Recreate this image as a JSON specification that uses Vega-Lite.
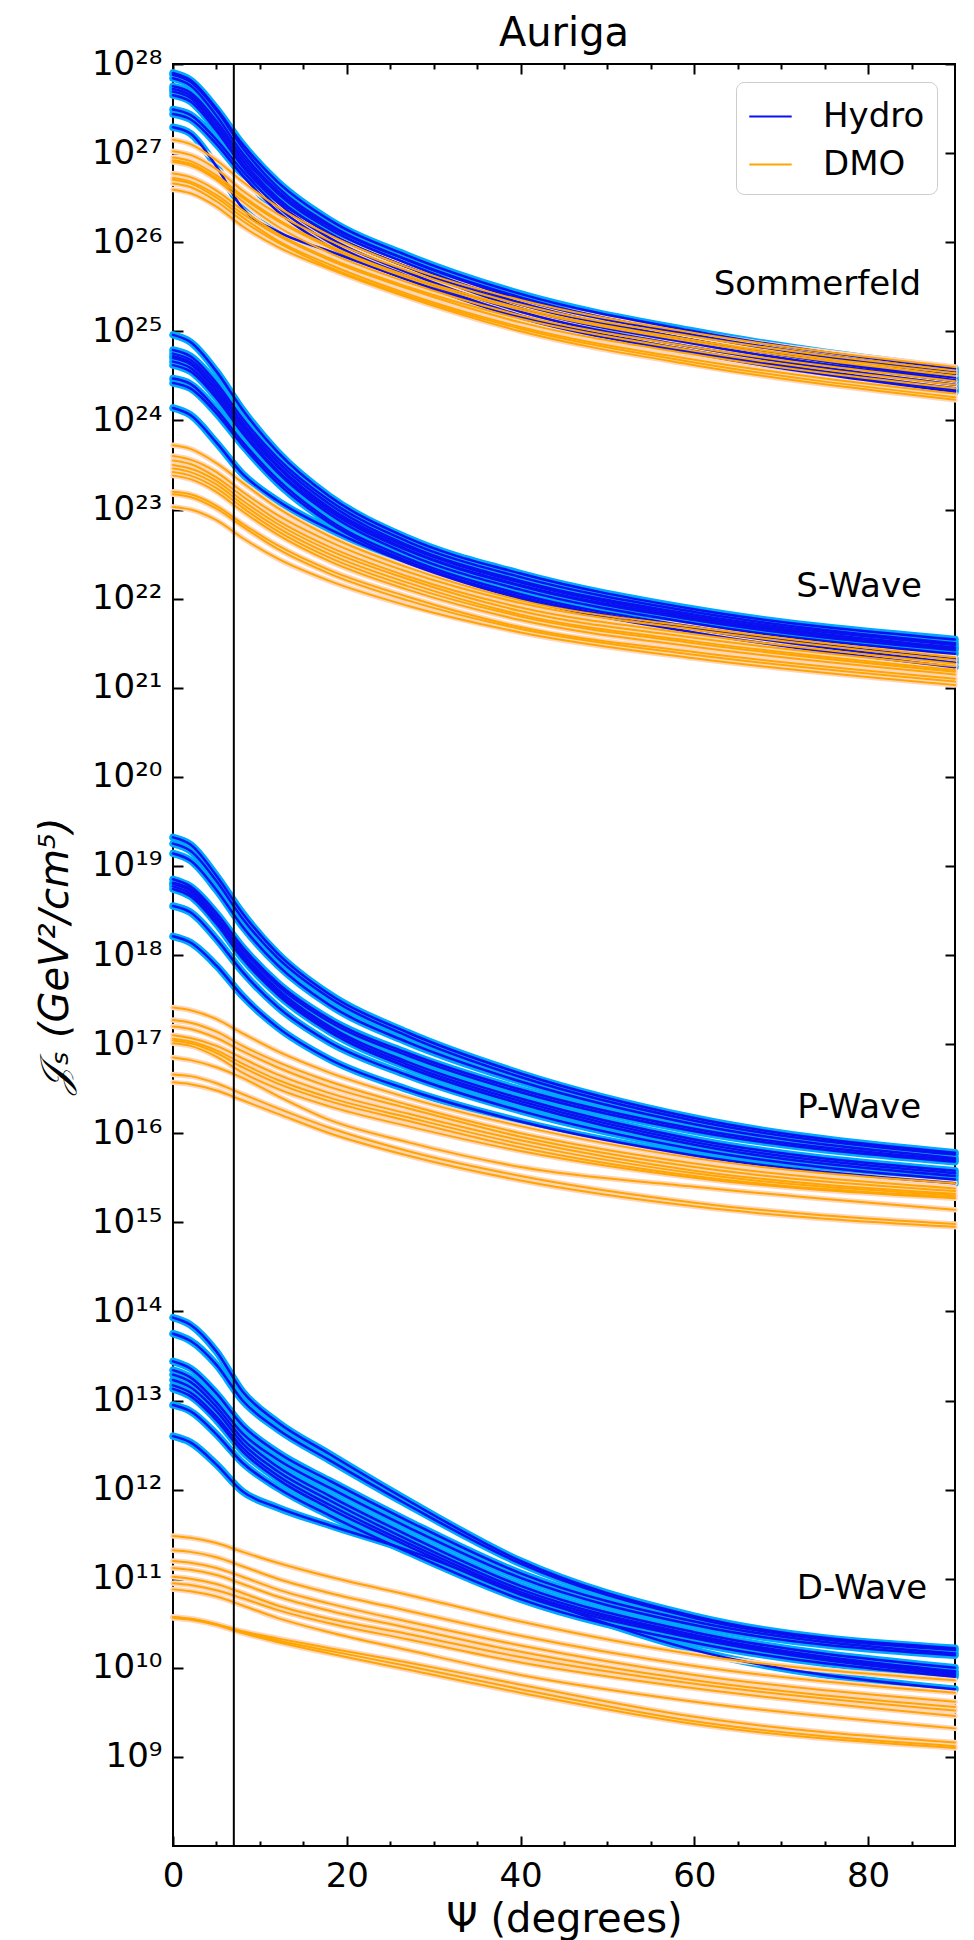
{
"$schema": "https://vega.github.io/schema/vega-lite/v6.json",
"width": 782,
"height": 1782,
"autosize": {"type": "none"},
"padding": {"left": 173, "top": 64, "right": 19, "bottom": 94},
"title": {"text": "Auriga", "fontSize": 40, "font": "DejaVu Sans", "fontWeight": "normal", "anchor": "middle", "baseline": "alphabetic", "offset": -39, "color": "black"},
"config": {
  "font": "DejaVu Sans",
  "view": {"stroke": "black", "strokeWidth": 2},
  "axis": {"domain": false, "grid": false, "labelFont": "DejaVu Sans", "labelFontSize": 34, "labelColor": "black", "tickColor": "black", "tickWidth": 2, "titleFont": "DejaVu Sans", "titleFontWeight": "normal", "titleColor": "black", "labelFlush": false, "labelOverlap": false},
  "legend": {"orient": "top-right", "offset": 18, "padding": 12, "strokeColor": "#cccccc", "fillColor": "white", "cornerRadius": 8, "labelFontSize": 34, "labelFont": "DejaVu Sans", "labelColor": "black", "symbolType": "stroke", "symbolSize": 1800, "symbolStrokeWidth": 2, "labelOffset": 30, "rowPadding": 8}
},
"datasets": {
"curves": [
{"c":"Som-H1","m":"Hydro","psi":0,"J":7.94e27},{"c":"Som-H1","m":"Hydro","psi":2,"J":6.61e27},{"c":"Som-H1","m":"Hydro","psi":5,"J":3.16e27},{"c":"Som-H1","m":"Hydro","psi":8,"J":1.26e27},{"c":"Som-H1","m":"Hydro","psi":12,"J":4.79e26},{"c":"Som-H1","m":"Hydro","psi":18,"J":1.78e26},{"c":"Som-H1","m":"Hydro","psi":27,"J":7.08e25},{"c":"Som-H1","m":"Hydro","psi":40,"J":2.63e25},{"c":"Som-H1","m":"Hydro","psi":60,"J":1e25},{"c":"Som-H1","m":"Hydro","psi":90,"J":3.8e24},
{"c":"Som-H2","m":"Hydro","psi":0,"J":7.59e27},{"c":"Som-H2","m":"Hydro","psi":2,"J":6.31e27},{"c":"Som-H2","m":"Hydro","psi":5,"J":3.02e27},{"c":"Som-H2","m":"Hydro","psi":8,"J":1.15e27},{"c":"Som-H2","m":"Hydro","psi":12,"J":4.17e26},{"c":"Som-H2","m":"Hydro","psi":18,"J":1.58e26},{"c":"Som-H2","m":"Hydro","psi":27,"J":6.31e25},{"c":"Som-H2","m":"Hydro","psi":40,"J":2.4e25},{"c":"Som-H2","m":"Hydro","psi":60,"J":9.12e24},{"c":"Som-H2","m":"Hydro","psi":90,"J":3.55e24},
{"c":"Som-H3","m":"Hydro","psi":0,"J":6.92e27},{"c":"Som-H3","m":"Hydro","psi":2,"J":5.75e27},{"c":"Som-H3","m":"Hydro","psi":5,"J":2.63e27},{"c":"Som-H3","m":"Hydro","psi":8,"J":1e27},{"c":"Som-H3","m":"Hydro","psi":12,"J":3.8e26},{"c":"Som-H3","m":"Hydro","psi":18,"J":1.51e26},{"c":"Som-H3","m":"Hydro","psi":27,"J":6.31e25},{"c":"Som-H3","m":"Hydro","psi":40,"J":2.29e25},{"c":"Som-H3","m":"Hydro","psi":60,"J":8.91e24},{"c":"Som-H3","m":"Hydro","psi":90,"J":3.31e24},
{"c":"Som-H4","m":"Hydro","psi":0,"J":5.62e27},{"c":"Som-H4","m":"Hydro","psi":2,"J":4.79e27},{"c":"Som-H4","m":"Hydro","psi":5,"J":2.29e27},{"c":"Som-H4","m":"Hydro","psi":8,"J":9.12e26},{"c":"Som-H4","m":"Hydro","psi":12,"J":3.55e26},{"c":"Som-H4","m":"Hydro","psi":18,"J":1.41e26},{"c":"Som-H4","m":"Hydro","psi":27,"J":5.75e25},{"c":"Som-H4","m":"Hydro","psi":40,"J":2.09e25},{"c":"Som-H4","m":"Hydro","psi":60,"J":7.94e24},{"c":"Som-H4","m":"Hydro","psi":90,"J":3.02e24},
{"c":"Som-H5","m":"Hydro","psi":0,"J":5.25e27},{"c":"Som-H5","m":"Hydro","psi":2,"J":4.47e27},{"c":"Som-H5","m":"Hydro","psi":5,"J":2.09e27},{"c":"Som-H5","m":"Hydro","psi":8,"J":8.32e26},{"c":"Som-H5","m":"Hydro","psi":12,"J":3.16e26},{"c":"Som-H5","m":"Hydro","psi":18,"J":1.26e26},{"c":"Som-H5","m":"Hydro","psi":27,"J":5.25e25},{"c":"Som-H5","m":"Hydro","psi":40,"J":2e25},{"c":"Som-H5","m":"Hydro","psi":60,"J":7.94e24},{"c":"Som-H5","m":"Hydro","psi":90,"J":2.82e24},
{"c":"Som-H6","m":"Hydro","psi":0,"J":4.9e27},{"c":"Som-H6","m":"Hydro","psi":2,"J":4.17e27},{"c":"Som-H6","m":"Hydro","psi":5,"J":1.91e27},{"c":"Som-H6","m":"Hydro","psi":8,"J":7.59e26},{"c":"Som-H6","m":"Hydro","psi":12,"J":3.02e26},{"c":"Som-H6","m":"Hydro","psi":18,"J":1.26e26},{"c":"Som-H6","m":"Hydro","psi":27,"J":5.25e25},{"c":"Som-H6","m":"Hydro","psi":40,"J":1.82e25},{"c":"Som-H6","m":"Hydro","psi":60,"J":7.24e24},{"c":"Som-H6","m":"Hydro","psi":90,"J":2.75e24},
{"c":"Som-H7","m":"Hydro","psi":0,"J":4.47e27},{"c":"Som-H7","m":"Hydro","psi":2,"J":3.8e27},{"c":"Som-H7","m":"Hydro","psi":5,"J":1.78e27},{"c":"Som-H7","m":"Hydro","psi":8,"J":7.08e26},{"c":"Som-H7","m":"Hydro","psi":12,"J":2.82e26},{"c":"Som-H7","m":"Hydro","psi":18,"J":1.12e26},{"c":"Som-H7","m":"Hydro","psi":27,"J":4.57e25},{"c":"Som-H7","m":"Hydro","psi":40,"J":1.66e25},{"c":"Som-H7","m":"Hydro","psi":60,"J":6.61e24},{"c":"Som-H7","m":"Hydro","psi":90,"J":2.51e24},
{"c":"Som-H8","m":"Hydro","psi":0,"J":3.09e27},{"c":"Som-H8","m":"Hydro","psi":2,"J":2.69e27},{"c":"Som-H8","m":"Hydro","psi":5,"J":1.41e27},{"c":"Som-H8","m":"Hydro","psi":8,"J":6.31e26},{"c":"Som-H8","m":"Hydro","psi":12,"J":2.51e26},{"c":"Som-H8","m":"Hydro","psi":18,"J":1e26},{"c":"Som-H8","m":"Hydro","psi":27,"J":4.17e25},{"c":"Som-H8","m":"Hydro","psi":40,"J":1.51e25},{"c":"Som-H8","m":"Hydro","psi":60,"J":6.03e24},{"c":"Som-H8","m":"Hydro","psi":90,"J":2.29e24},
{"c":"Som-H9","m":"Hydro","psi":0,"J":2.75e27},{"c":"Som-H9","m":"Hydro","psi":2,"J":2.4e27},{"c":"Som-H9","m":"Hydro","psi":5,"J":1.26e27},{"c":"Som-H9","m":"Hydro","psi":8,"J":5.62e26},{"c":"Som-H9","m":"Hydro","psi":12,"J":2.24e26},{"c":"Som-H9","m":"Hydro","psi":18,"J":8.91e25},{"c":"Som-H9","m":"Hydro","psi":27,"J":3.8e25},{"c":"Som-H9","m":"Hydro","psi":40,"J":1.41e25},{"c":"Som-H9","m":"Hydro","psi":60,"J":5.75e24},{"c":"Som-H9","m":"Hydro","psi":90,"J":2.19e24},
{"c":"Som-H10","m":"Hydro","psi":0,"J":1.95e27},{"c":"Som-H10","m":"Hydro","psi":2,"J":1.66e27},{"c":"Som-H10","m":"Hydro","psi":5,"J":7.08e26},{"c":"Som-H10","m":"Hydro","psi":8,"J":2.4e26},{"c":"Som-H10","m":"Hydro","psi":12,"J":1.32e26},{"c":"Som-H10","m":"Hydro","psi":18,"J":7.94e25},{"c":"Som-H10","m":"Hydro","psi":27,"J":3.8e25},{"c":"Som-H10","m":"Hydro","psi":40,"J":1.45e25},{"c":"Som-H10","m":"Hydro","psi":60,"J":5.62e24},{"c":"Som-H10","m":"Hydro","psi":90,"J":2.09e24},
{"c":"Som-D1","m":"DMO","psi":0,"J":1.41e27},{"c":"Som-D1","m":"DMO","psi":2,"J":1.26e27},{"c":"Som-D1","m":"DMO","psi":5,"J":8.32e26},{"c":"Som-D1","m":"DMO","psi":8,"J":4.79e26},{"c":"Som-D1","m":"DMO","psi":12,"J":2.51e26},{"c":"Som-D1","m":"DMO","psi":18,"J":1.2e26},{"c":"Som-D1","m":"DMO","psi":27,"J":5.25e25},{"c":"Som-D1","m":"DMO","psi":40,"J":2.24e25},{"c":"Som-D1","m":"DMO","psi":60,"J":9.55e24},{"c":"Som-D1","m":"DMO","psi":90,"J":3.98e24},
{"c":"Som-D2","m":"DMO","psi":0,"J":1.05e27},{"c":"Som-D2","m":"DMO","psi":2,"J":9.55e26},{"c":"Som-D2","m":"DMO","psi":5,"J":6.61e26},{"c":"Som-D2","m":"DMO","psi":8,"J":3.8e26},{"c":"Som-D2","m":"DMO","psi":12,"J":2.09e26},{"c":"Som-D2","m":"DMO","psi":18,"J":1.05e26},{"c":"Som-D2","m":"DMO","psi":27,"J":4.79e25},{"c":"Som-D2","m":"DMO","psi":40,"J":2e25},{"c":"Som-D2","m":"DMO","psi":60,"J":8.71e24},{"c":"Som-D2","m":"DMO","psi":90,"J":3.63e24},
{"c":"Som-D3","m":"DMO","psi":0,"J":8.91e26},{"c":"Som-D3","m":"DMO","psi":2,"J":8.13e26},{"c":"Som-D3","m":"DMO","psi":5,"J":5.62e26},{"c":"Som-D3","m":"DMO","psi":8,"J":3.31e26},{"c":"Som-D3","m":"DMO","psi":12,"J":1.82e26},{"c":"Som-D3","m":"DMO","psi":18,"J":9.12e25},{"c":"Som-D3","m":"DMO","psi":27,"J":4.17e25},{"c":"Som-D3","m":"DMO","psi":40,"J":1.82e25},{"c":"Som-D3","m":"DMO","psi":60,"J":7.94e24},{"c":"Som-D3","m":"DMO","psi":90,"J":3.39e24},
{"c":"Som-D4","m":"DMO","psi":0,"J":8.32e26},{"c":"Som-D4","m":"DMO","psi":2,"J":7.59e26},{"c":"Som-D4","m":"DMO","psi":5,"J":5.25e26},{"c":"Som-D4","m":"DMO","psi":8,"J":3.16e26},{"c":"Som-D4","m":"DMO","psi":12,"J":1.74e26},{"c":"Som-D4","m":"DMO","psi":18,"J":8.71e25},{"c":"Som-D4","m":"DMO","psi":27,"J":3.98e25},{"c":"Som-D4","m":"DMO","psi":40,"J":1.74e25},{"c":"Som-D4","m":"DMO","psi":60,"J":7.59e24},{"c":"Som-D4","m":"DMO","psi":90,"J":3.16e24},
{"c":"Som-D5","m":"DMO","psi":0,"J":7.94e26},{"c":"Som-D5","m":"DMO","psi":2,"J":7.24e26},{"c":"Som-D5","m":"DMO","psi":5,"J":5.01e26},{"c":"Som-D5","m":"DMO","psi":8,"J":2.88e26},{"c":"Som-D5","m":"DMO","psi":12,"J":1.51e26},{"c":"Som-D5","m":"DMO","psi":18,"J":7.59e25},{"c":"Som-D5","m":"DMO","psi":27,"J":3.55e25},{"c":"Som-D5","m":"DMO","psi":40,"J":1.51e25},{"c":"Som-D5","m":"DMO","psi":60,"J":6.61e24},{"c":"Som-D5","m":"DMO","psi":90,"J":2.75e24},
{"c":"Som-D6","m":"DMO","psi":0,"J":5.89e26},{"c":"Som-D6","m":"DMO","psi":2,"J":5.37e26},{"c":"Som-D6","m":"DMO","psi":5,"J":3.8e26},{"c":"Som-D6","m":"DMO","psi":8,"J":2.29e26},{"c":"Som-D6","m":"DMO","psi":12,"J":1.26e26},{"c":"Som-D6","m":"DMO","psi":18,"J":6.61e25},{"c":"Som-D6","m":"DMO","psi":27,"J":3.16e25},{"c":"Som-D6","m":"DMO","psi":40,"J":1.38e25},{"c":"Som-D6","m":"DMO","psi":60,"J":6.03e24},{"c":"Som-D6","m":"DMO","psi":90,"J":2.51e24},
{"c":"Som-D7","m":"DMO","psi":0,"J":5.25e26},{"c":"Som-D7","m":"DMO","psi":2,"J":4.79e26},{"c":"Som-D7","m":"DMO","psi":5,"J":3.39e26},{"c":"Som-D7","m":"DMO","psi":8,"J":2.09e26},{"c":"Som-D7","m":"DMO","psi":12,"J":1.2e26},{"c":"Som-D7","m":"DMO","psi":18,"J":6.31e25},{"c":"Som-D7","m":"DMO","psi":27,"J":3.02e25},{"c":"Som-D7","m":"DMO","psi":40,"J":1.26e25},{"c":"Som-D7","m":"DMO","psi":60,"J":5.5e24},{"c":"Som-D7","m":"DMO","psi":90,"J":2.29e24},
{"c":"Som-D8","m":"DMO","psi":0,"J":5.01e26},{"c":"Som-D8","m":"DMO","psi":2,"J":4.57e26},{"c":"Som-D8","m":"DMO","psi":5,"J":3.16e26},{"c":"Som-D8","m":"DMO","psi":8,"J":1.91e26},{"c":"Som-D8","m":"DMO","psi":12,"J":1.05e26},{"c":"Som-D8","m":"DMO","psi":18,"J":5.62e25},{"c":"Som-D8","m":"DMO","psi":27,"J":2.63e25},{"c":"Som-D8","m":"DMO","psi":40,"J":1.12e25},{"c":"Som-D8","m":"DMO","psi":60,"J":4.79e24},{"c":"Som-D8","m":"DMO","psi":90,"J":2e24},
{"c":"Som-D9","m":"DMO","psi":0,"J":4.57e26},{"c":"Som-D9","m":"DMO","psi":2,"J":4.17e26},{"c":"Som-D9","m":"DMO","psi":5,"J":2.88e26},{"c":"Som-D9","m":"DMO","psi":8,"J":1.74e26},{"c":"Som-D9","m":"DMO","psi":12,"J":1e26},{"c":"Som-D9","m":"DMO","psi":18,"J":5.25e25},{"c":"Som-D9","m":"DMO","psi":27,"J":2.51e25},{"c":"Som-D9","m":"DMO","psi":40,"J":1.07e25},{"c":"Som-D9","m":"DMO","psi":60,"J":4.47e24},{"c":"Som-D9","m":"DMO","psi":90,"J":1.82e24},
{"c":"Som-D10","m":"DMO","psi":0,"J":3.89e26},{"c":"Som-D10","m":"DMO","psi":2,"J":3.55e26},{"c":"Som-D10","m":"DMO","psi":5,"J":2.51e26},{"c":"Som-D10","m":"DMO","psi":8,"J":1.51e26},{"c":"Som-D10","m":"DMO","psi":12,"J":8.91e25},{"c":"Som-D10","m":"DMO","psi":18,"J":5.01e25},{"c":"Som-D10","m":"DMO","psi":27,"J":2.4e25},{"c":"Som-D10","m":"DMO","psi":40,"J":1e25},{"c":"Som-D10","m":"DMO","psi":60,"J":4.17e24},{"c":"Som-D10","m":"DMO","psi":90,"J":1.7e24},
{"c":"S-H1","m":"Hydro","psi":0,"J":9.12e24},{"c":"S-H1","m":"Hydro","psi":2,"J":7.59e24},{"c":"S-H1","m":"Hydro","psi":5,"J":3.55e24},{"c":"S-H1","m":"Hydro","psi":8,"J":1.32e24},{"c":"S-H1","m":"Hydro","psi":12,"J":4.47e23},{"c":"S-H1","m":"Hydro","psi":18,"J":1.41e23},{"c":"S-H1","m":"Hydro","psi":27,"J":4.79e22},{"c":"S-H1","m":"Hydro","psi":40,"J":1.91e22},{"c":"S-H1","m":"Hydro","psi":60,"J":7.59e21},{"c":"S-H1","m":"Hydro","psi":90,"J":3.47e21},
{"c":"S-H2","m":"Hydro","psi":0,"J":6.17e24},{"c":"S-H2","m":"Hydro","psi":2,"J":5.25e24},{"c":"S-H2","m":"Hydro","psi":5,"J":2.63e24},{"c":"S-H2","m":"Hydro","psi":8,"J":1.05e24},{"c":"S-H2","m":"Hydro","psi":12,"J":3.8e23},{"c":"S-H2","m":"Hydro","psi":18,"J":1.26e23},{"c":"S-H2","m":"Hydro","psi":27,"J":4.37e22},{"c":"S-H2","m":"Hydro","psi":40,"J":1.74e22},{"c":"S-H2","m":"Hydro","psi":60,"J":7.08e21},{"c":"S-H2","m":"Hydro","psi":90,"J":3.16e21},
{"c":"S-H3","m":"Hydro","psi":0,"J":5.62e24},{"c":"S-H3","m":"Hydro","psi":2,"J":4.79e24},{"c":"S-H3","m":"Hydro","psi":5,"J":2.4e24},{"c":"S-H3","m":"Hydro","psi":8,"J":9.55e23},{"c":"S-H3","m":"Hydro","psi":12,"J":3.47e23},{"c":"S-H3","m":"Hydro","psi":18,"J":1.15e23},{"c":"S-H3","m":"Hydro","psi":27,"J":3.98e22},{"c":"S-H3","m":"Hydro","psi":40,"J":1.58e22},{"c":"S-H3","m":"Hydro","psi":60,"J":6.61e21},{"c":"S-H3","m":"Hydro","psi":90,"J":3.02e21},
{"c":"S-H4","m":"Hydro","psi":0,"J":5.25e24},{"c":"S-H4","m":"Hydro","psi":2,"J":4.47e24},{"c":"S-H4","m":"Hydro","psi":5,"J":2.19e24},{"c":"S-H4","m":"Hydro","psi":8,"J":8.91e23},{"c":"S-H4","m":"Hydro","psi":12,"J":3.16e23},{"c":"S-H4","m":"Hydro","psi":18,"J":1.05e23},{"c":"S-H4","m":"Hydro","psi":27,"J":3.8e22},{"c":"S-H4","m":"Hydro","psi":40,"J":1.51e22},{"c":"S-H4","m":"Hydro","psi":60,"J":6.31e21},{"c":"S-H4","m":"Hydro","psi":90,"J":2.82e21},
{"c":"S-H5","m":"Hydro","psi":0,"J":5.01e24},{"c":"S-H5","m":"Hydro","psi":2,"J":4.27e24},{"c":"S-H5","m":"Hydro","psi":5,"J":2.09e24},{"c":"S-H5","m":"Hydro","psi":8,"J":8.32e23},{"c":"S-H5","m":"Hydro","psi":12,"J":3.02e23},{"c":"S-H5","m":"Hydro","psi":18,"J":1e23},{"c":"S-H5","m":"Hydro","psi":27,"J":3.55e22},{"c":"S-H5","m":"Hydro","psi":40,"J":1.41e22},{"c":"S-H5","m":"Hydro","psi":60,"J":6.03e21},{"c":"S-H5","m":"Hydro","psi":90,"J":2.75e21},
{"c":"S-H6","m":"Hydro","psi":0,"J":4.57e24},{"c":"S-H6","m":"Hydro","psi":2,"J":3.89e24},{"c":"S-H6","m":"Hydro","psi":5,"J":1.91e24},{"c":"S-H6","m":"Hydro","psi":8,"J":7.59e23},{"c":"S-H6","m":"Hydro","psi":12,"J":2.75e23},{"c":"S-H6","m":"Hydro","psi":18,"J":9.55e22},{"c":"S-H6","m":"Hydro","psi":27,"J":3.47e22},{"c":"S-H6","m":"Hydro","psi":40,"J":1.38e22},{"c":"S-H6","m":"Hydro","psi":60,"J":5.75e21},{"c":"S-H6","m":"Hydro","psi":90,"J":2.63e21},
{"c":"S-H7","m":"Hydro","psi":0,"J":4.17e24},{"c":"S-H7","m":"Hydro","psi":2,"J":3.55e24},{"c":"S-H7","m":"Hydro","psi":5,"J":1.78e24},{"c":"S-H7","m":"Hydro","psi":8,"J":7.24e23},{"c":"S-H7","m":"Hydro","psi":12,"J":2.63e23},{"c":"S-H7","m":"Hydro","psi":18,"J":8.91e22},{"c":"S-H7","m":"Hydro","psi":27,"J":3.16e22},{"c":"S-H7","m":"Hydro","psi":40,"J":1.26e22},{"c":"S-H7","m":"Hydro","psi":60,"J":5.25e21},{"c":"S-H7","m":"Hydro","psi":90,"J":2.4e21},
{"c":"S-H8","m":"Hydro","psi":0,"J":2.95e24},{"c":"S-H8","m":"Hydro","psi":2,"J":2.57e24},{"c":"S-H8","m":"Hydro","psi":5,"J":1.32e24},{"c":"S-H8","m":"Hydro","psi":8,"J":5.75e23},{"c":"S-H8","m":"Hydro","psi":12,"J":2.19e23},{"c":"S-H8","m":"Hydro","psi":18,"J":7.59e22},{"c":"S-H8","m":"Hydro","psi":27,"J":2.82e22},{"c":"S-H8","m":"Hydro","psi":40,"J":1.12e22},{"c":"S-H8","m":"Hydro","psi":60,"J":4.79e21},{"c":"S-H8","m":"Hydro","psi":90,"J":2.09e21},
{"c":"S-H9","m":"Hydro","psi":0,"J":2.63e24},{"c":"S-H9","m":"Hydro","psi":2,"J":2.29e24},{"c":"S-H9","m":"Hydro","psi":5,"J":1.2e24},{"c":"S-H9","m":"Hydro","psi":8,"J":5.25e23},{"c":"S-H9","m":"Hydro","psi":12,"J":2e23},{"c":"S-H9","m":"Hydro","psi":18,"J":7.08e22},{"c":"S-H9","m":"Hydro","psi":27,"J":2.63e22},{"c":"S-H9","m":"Hydro","psi":40,"J":1.05e22},{"c":"S-H9","m":"Hydro","psi":60,"J":4.57e21},{"c":"S-H9","m":"Hydro","psi":90,"J":1.91e21},
{"c":"S-H10","m":"Hydro","psi":0,"J":1.38e24},{"c":"S-H10","m":"Hydro","psi":2,"J":1.15e24},{"c":"S-H10","m":"Hydro","psi":5,"J":5.62e23},{"c":"S-H10","m":"Hydro","psi":8,"J":2.51e23},{"c":"S-H10","m":"Hydro","psi":12,"J":1.26e23},{"c":"S-H10","m":"Hydro","psi":18,"J":6.03e22},{"c":"S-H10","m":"Hydro","psi":27,"J":2.51e22},{"c":"S-H10","m":"Hydro","psi":40,"J":1e22},{"c":"S-H10","m":"Hydro","psi":60,"J":4.17e21},{"c":"S-H10","m":"Hydro","psi":90,"J":1.7e21},
{"c":"S-D1","m":"DMO","psi":0,"J":5.25e23},{"c":"S-D1","m":"DMO","psi":2,"J":4.79e23},{"c":"S-D1","m":"DMO","psi":5,"J":3.31e23},{"c":"S-D1","m":"DMO","psi":8,"J":2e23},{"c":"S-D1","m":"DMO","psi":12,"J":1.05e23},{"c":"S-D1","m":"DMO","psi":18,"J":5.01e22},{"c":"S-D1","m":"DMO","psi":27,"J":2.24e22},{"c":"S-D1","m":"DMO","psi":40,"J":9.55e21},{"c":"S-D1","m":"DMO","psi":60,"J":4.79e21},{"c":"S-D1","m":"DMO","psi":90,"J":2.19e21},
{"c":"S-D2","m":"DMO","psi":0,"J":3.98e23},{"c":"S-D2","m":"DMO","psi":2,"J":3.63e23},{"c":"S-D2","m":"DMO","psi":5,"J":2.63e23},{"c":"S-D2","m":"DMO","psi":8,"J":1.58e23},{"c":"S-D2","m":"DMO","psi":12,"J":8.71e22},{"c":"S-D2","m":"DMO","psi":18,"J":4.37e22},{"c":"S-D2","m":"DMO","psi":27,"J":2e22},{"c":"S-D2","m":"DMO","psi":40,"J":8.91e21},{"c":"S-D2","m":"DMO","psi":60,"J":4.47e21},{"c":"S-D2","m":"DMO","psi":90,"J":2.04e21},
{"c":"S-D3","m":"DMO","psi":0,"J":3.55e23},{"c":"S-D3","m":"DMO","psi":2,"J":3.24e23},{"c":"S-D3","m":"DMO","psi":5,"J":2.29e23},{"c":"S-D3","m":"DMO","psi":8,"J":1.41e23},{"c":"S-D3","m":"DMO","psi":12,"J":7.59e22},{"c":"S-D3","m":"DMO","psi":18,"J":3.8e22},{"c":"S-D3","m":"DMO","psi":27,"J":1.78e22},{"c":"S-D3","m":"DMO","psi":40,"J":7.94e21},{"c":"S-D3","m":"DMO","psi":60,"J":3.98e21},{"c":"S-D3","m":"DMO","psi":90,"J":1.86e21},
{"c":"S-D4","m":"DMO","psi":0,"J":3.16e23},{"c":"S-D4","m":"DMO","psi":2,"J":2.88e23},{"c":"S-D4","m":"DMO","psi":5,"J":2.09e23},{"c":"S-D4","m":"DMO","psi":8,"J":1.26e23},{"c":"S-D4","m":"DMO","psi":12,"J":6.92e22},{"c":"S-D4","m":"DMO","psi":18,"J":3.47e22},{"c":"S-D4","m":"DMO","psi":27,"J":1.66e22},{"c":"S-D4","m":"DMO","psi":40,"J":7.24e21},{"c":"S-D4","m":"DMO","psi":60,"J":3.63e21},{"c":"S-D4","m":"DMO","psi":90,"J":1.74e21},
{"c":"S-D5","m":"DMO","psi":0,"J":2.88e23},{"c":"S-D5","m":"DMO","psi":2,"J":2.63e23},{"c":"S-D5","m":"DMO","psi":5,"J":1.91e23},{"c":"S-D5","m":"DMO","psi":8,"J":1.15e23},{"c":"S-D5","m":"DMO","psi":12,"J":6.31e22},{"c":"S-D5","m":"DMO","psi":18,"J":3.16e22},{"c":"S-D5","m":"DMO","psi":27,"J":1.51e22},{"c":"S-D5","m":"DMO","psi":40,"J":6.61e21},{"c":"S-D5","m":"DMO","psi":60,"J":3.31e21},{"c":"S-D5","m":"DMO","psi":90,"J":1.58e21},
{"c":"S-D6","m":"DMO","psi":0,"J":2.63e23},{"c":"S-D6","m":"DMO","psi":2,"J":2.4e23},{"c":"S-D6","m":"DMO","psi":5,"J":1.74e23},{"c":"S-D6","m":"DMO","psi":8,"J":1.05e23},{"c":"S-D6","m":"DMO","psi":12,"J":5.75e22},{"c":"S-D6","m":"DMO","psi":18,"J":2.88e22},{"c":"S-D6","m":"DMO","psi":27,"J":1.38e22},{"c":"S-D6","m":"DMO","psi":40,"J":6.31e21},{"c":"S-D6","m":"DMO","psi":60,"J":3.16e21},{"c":"S-D6","m":"DMO","psi":90,"J":1.51e21},
{"c":"S-D7","m":"DMO","psi":0,"J":2.4e23},{"c":"S-D7","m":"DMO","psi":2,"J":2.19e23},{"c":"S-D7","m":"DMO","psi":5,"J":1.58e23},{"c":"S-D7","m":"DMO","psi":8,"J":9.55e22},{"c":"S-D7","m":"DMO","psi":12,"J":5.25e22},{"c":"S-D7","m":"DMO","psi":18,"J":2.63e22},{"c":"S-D7","m":"DMO","psi":27,"J":1.26e22},{"c":"S-D7","m":"DMO","psi":40,"J":5.75e21},{"c":"S-D7","m":"DMO","psi":60,"J":2.88e21},{"c":"S-D7","m":"DMO","psi":90,"J":1.41e21},
{"c":"S-D8","m":"DMO","psi":0,"J":1.58e23},{"c":"S-D8","m":"DMO","psi":2,"J":1.48e23},{"c":"S-D8","m":"DMO","psi":5,"J":1.1e23},{"c":"S-D8","m":"DMO","psi":8,"J":6.92e22},{"c":"S-D8","m":"DMO","psi":12,"J":3.98e22},{"c":"S-D8","m":"DMO","psi":18,"J":2.09e22},{"c":"S-D8","m":"DMO","psi":27,"J":1.05e22},{"c":"S-D8","m":"DMO","psi":40,"J":4.79e21},{"c":"S-D8","m":"DMO","psi":60,"J":2.51e21},{"c":"S-D8","m":"DMO","psi":90,"J":1.26e21},
{"c":"S-D9","m":"DMO","psi":0,"J":1.48e23},{"c":"S-D9","m":"DMO","psi":2,"J":1.38e23},{"c":"S-D9","m":"DMO","psi":5,"J":1.02e23},{"c":"S-D9","m":"DMO","psi":8,"J":6.46e22},{"c":"S-D9","m":"DMO","psi":12,"J":3.63e22},{"c":"S-D9","m":"DMO","psi":18,"J":1.91e22},{"c":"S-D9","m":"DMO","psi":27,"J":9.55e21},{"c":"S-D9","m":"DMO","psi":40,"J":4.57e21},{"c":"S-D9","m":"DMO","psi":60,"J":2.34e21},{"c":"S-D9","m":"DMO","psi":90,"J":1.17e21},
{"c":"S-D10","m":"DMO","psi":0,"J":1.07e23},{"c":"S-D10","m":"DMO","psi":2,"J":1e23},{"c":"S-D10","m":"DMO","psi":5,"J":7.59e22},{"c":"S-D10","m":"DMO","psi":8,"J":4.79e22},{"c":"S-D10","m":"DMO","psi":12,"J":2.82e22},{"c":"S-D10","m":"DMO","psi":18,"J":1.58e22},{"c":"S-D10","m":"DMO","psi":27,"J":8.32e21},{"c":"S-D10","m":"DMO","psi":40,"J":4.17e21},{"c":"S-D10","m":"DMO","psi":60,"J":2.14e21},{"c":"S-D10","m":"DMO","psi":90,"J":1.07e21},
{"c":"P-H1","m":"Hydro","psi":0,"J":2.09e19},{"c":"P-H1","m":"Hydro","psi":2,"J":1.74e19},{"c":"P-H1","m":"Hydro","psi":5,"J":7.76e18},{"c":"P-H1","m":"Hydro","psi":8,"J":2.95e18},{"c":"P-H1","m":"Hydro","psi":12,"J":1.05e18},{"c":"P-H1","m":"Hydro","psi":18,"J":3.63e17},{"c":"P-H1","m":"Hydro","psi":27,"J":1.35e17},{"c":"P-H1","m":"Hydro","psi":40,"J":4.68e16},{"c":"P-H1","m":"Hydro","psi":60,"J":1.48e16},{"c":"P-H1","m":"Hydro","psi":90,"J":6.03e15},
{"c":"P-H2","m":"Hydro","psi":0,"J":1.78e19},{"c":"P-H2","m":"Hydro","psi":2,"J":1.48e19},{"c":"P-H2","m":"Hydro","psi":5,"J":6.76e18},{"c":"P-H2","m":"Hydro","psi":8,"J":2.57e18},{"c":"P-H2","m":"Hydro","psi":12,"J":9.33e17},{"c":"P-H2","m":"Hydro","psi":18,"J":3.31e17},{"c":"P-H2","m":"Hydro","psi":27,"J":1.23e17},{"c":"P-H2","m":"Hydro","psi":40,"J":4.27e16},{"c":"P-H2","m":"Hydro","psi":60,"J":1.38e16},{"c":"P-H2","m":"Hydro","psi":90,"J":5.75e15},
{"c":"P-H3","m":"Hydro","psi":0,"J":1.38e19},{"c":"P-H3","m":"Hydro","psi":2,"J":1.15e19},{"c":"P-H3","m":"Hydro","psi":5,"J":5.37e18},{"c":"P-H3","m":"Hydro","psi":8,"J":2.09e18},{"c":"P-H3","m":"Hydro","psi":12,"J":7.76e17},{"c":"P-H3","m":"Hydro","psi":18,"J":2.75e17},{"c":"P-H3","m":"Hydro","psi":27,"J":1.05e17},{"c":"P-H3","m":"Hydro","psi":40,"J":3.8e16},{"c":"P-H3","m":"Hydro","psi":60,"J":1.26e16},{"c":"P-H3","m":"Hydro","psi":90,"J":5.25e15},
{"c":"P-H4","m":"Hydro","psi":0,"J":7.08e18},{"c":"P-H4","m":"Hydro","psi":2,"J":5.89e18},{"c":"P-H4","m":"Hydro","psi":5,"J":2.95e18},{"c":"P-H4","m":"Hydro","psi":8,"J":1.23e18},{"c":"P-H4","m":"Hydro","psi":12,"J":4.9e17},{"c":"P-H4","m":"Hydro","psi":18,"J":1.91e17},{"c":"P-H4","m":"Hydro","psi":27,"J":7.94e16},{"c":"P-H4","m":"Hydro","psi":40,"J":3.09e16},{"c":"P-H4","m":"Hydro","psi":60,"J":1.12e16},{"c":"P-H4","m":"Hydro","psi":90,"J":5.01e15},
{"c":"P-H5","m":"Hydro","psi":0,"J":6.46e18},{"c":"P-H5","m":"Hydro","psi":2,"J":5.5e18},{"c":"P-H5","m":"Hydro","psi":5,"J":2.69e18},{"c":"P-H5","m":"Hydro","psi":8,"J":1.15e18},{"c":"P-H5","m":"Hydro","psi":12,"J":4.57e17},{"c":"P-H5","m":"Hydro","psi":18,"J":1.78e17},{"c":"P-H5","m":"Hydro","psi":27,"J":7.41e16},{"c":"P-H5","m":"Hydro","psi":40,"J":2.88e16},{"c":"P-H5","m":"Hydro","psi":60,"J":1.05e16},{"c":"P-H5","m":"Hydro","psi":90,"J":4.79e15},
{"c":"P-H6","m":"Hydro","psi":0,"J":6.31e18},{"c":"P-H6","m":"Hydro","psi":2,"J":5.25e18},{"c":"P-H6","m":"Hydro","psi":5,"J":2.57e18},{"c":"P-H6","m":"Hydro","psi":8,"J":1.05e18},{"c":"P-H6","m":"Hydro","psi":12,"J":4.17e17},{"c":"P-H6","m":"Hydro","psi":18,"J":1.58e17},{"c":"P-H6","m":"Hydro","psi":27,"J":6.31e16},{"c":"P-H6","m":"Hydro","psi":40,"J":2.45e16},{"c":"P-H6","m":"Hydro","psi":60,"J":8.51e15},{"c":"P-H6","m":"Hydro","psi":90,"J":3.8e15},
{"c":"P-H7","m":"Hydro","psi":0,"J":5.89e18},{"c":"P-H7","m":"Hydro","psi":2,"J":4.9e18},{"c":"P-H7","m":"Hydro","psi":5,"J":2.4e18},{"c":"P-H7","m":"Hydro","psi":8,"J":9.77e17},{"c":"P-H7","m":"Hydro","psi":12,"J":3.89e17},{"c":"P-H7","m":"Hydro","psi":18,"J":1.48e17},{"c":"P-H7","m":"Hydro","psi":27,"J":5.89e16},{"c":"P-H7","m":"Hydro","psi":40,"J":2.29e16},{"c":"P-H7","m":"Hydro","psi":60,"J":7.94e15},{"c":"P-H7","m":"Hydro","psi":90,"J":3.55e15},
{"c":"P-H8","m":"Hydro","psi":0,"J":5.5e18},{"c":"P-H8","m":"Hydro","psi":2,"J":4.57e18},{"c":"P-H8","m":"Hydro","psi":5,"J":2.24e18},{"c":"P-H8","m":"Hydro","psi":8,"J":9.12e17},{"c":"P-H8","m":"Hydro","psi":12,"J":3.63e17},{"c":"P-H8","m":"Hydro","psi":18,"J":1.38e17},{"c":"P-H8","m":"Hydro","psi":27,"J":5.5e16},{"c":"P-H8","m":"Hydro","psi":40,"J":2.14e16},{"c":"P-H8","m":"Hydro","psi":60,"J":7.41e15},{"c":"P-H8","m":"Hydro","psi":90,"J":3.31e15},
{"c":"P-H9","m":"Hydro","psi":0,"J":3.55e18},{"c":"P-H9","m":"Hydro","psi":2,"J":3.02e18},{"c":"P-H9","m":"Hydro","psi":5,"J":1.51e18},{"c":"P-H9","m":"Hydro","psi":8,"J":6.46e17},{"c":"P-H9","m":"Hydro","psi":12,"J":2.63e17},{"c":"P-H9","m":"Hydro","psi":18,"J":1.05e17},{"c":"P-H9","m":"Hydro","psi":27,"J":4.47e16},{"c":"P-H9","m":"Hydro","psi":40,"J":1.78e16},{"c":"P-H9","m":"Hydro","psi":60,"J":6.61e15},{"c":"P-H9","m":"Hydro","psi":90,"J":3.02e15},
{"c":"P-H10","m":"Hydro","psi":0,"J":1.62e18},{"c":"P-H10","m":"Hydro","psi":2,"J":1.38e18},{"c":"P-H10","m":"Hydro","psi":5,"J":7.59e17},{"c":"P-H10","m":"Hydro","psi":8,"J":3.47e17},{"c":"P-H10","m":"Hydro","psi":12,"J":1.55e17},{"c":"P-H10","m":"Hydro","psi":18,"J":6.76e16},{"c":"P-H10","m":"Hydro","psi":27,"J":3.09e16},{"c":"P-H10","m":"Hydro","psi":40,"J":1.35e16},{"c":"P-H10","m":"Hydro","psi":60,"J":5.62e15},{"c":"P-H10","m":"Hydro","psi":90,"J":2.75e15},
{"c":"P-D1","m":"DMO","psi":0,"J":2.57e17},{"c":"P-D1","m":"DMO","psi":2,"J":2.4e17},{"c":"P-D1","m":"DMO","psi":5,"J":1.91e17},{"c":"P-D1","m":"DMO","psi":8,"J":1.32e17},{"c":"P-D1","m":"DMO","psi":12,"J":8.32e16},{"c":"P-D1","m":"DMO","psi":18,"J":4.79e16},{"c":"P-D1","m":"DMO","psi":27,"J":2.51e16},{"c":"P-D1","m":"DMO","psi":40,"J":1.2e16},{"c":"P-D1","m":"DMO","psi":60,"J":5.25e15},{"c":"P-D1","m":"DMO","psi":90,"J":2.75e15},
{"c":"P-D2","m":"DMO","psi":0,"J":1.86e17},{"c":"P-D2","m":"DMO","psi":2,"J":1.74e17},{"c":"P-D2","m":"DMO","psi":5,"J":1.38e17},{"c":"P-D2","m":"DMO","psi":8,"J":9.55e16},{"c":"P-D2","m":"DMO","psi":12,"J":6.31e16},{"c":"P-D2","m":"DMO","psi":18,"J":3.8e16},{"c":"P-D2","m":"DMO","psi":27,"J":2.09e16},{"c":"P-D2","m":"DMO","psi":40,"J":1e16},{"c":"P-D2","m":"DMO","psi":60,"J":4.57e15},{"c":"P-D2","m":"DMO","psi":90,"J":2.4e15},
{"c":"P-D3","m":"DMO","psi":0,"J":1.58e17},{"c":"P-D3","m":"DMO","psi":2,"J":1.48e17},{"c":"P-D3","m":"DMO","psi":5,"J":1.17e17},{"c":"P-D3","m":"DMO","psi":8,"J":8.32e16},{"c":"P-D3","m":"DMO","psi":12,"J":5.5e16},{"c":"P-D3","m":"DMO","psi":18,"J":3.31e16},{"c":"P-D3","m":"DMO","psi":27,"J":1.91e16},{"c":"P-D3","m":"DMO","psi":40,"J":9.12e15},{"c":"P-D3","m":"DMO","psi":60,"J":4.17e15},{"c":"P-D3","m":"DMO","psi":90,"J":2.24e15},
{"c":"P-D4","m":"DMO","psi":0,"J":1.26e17},{"c":"P-D4","m":"DMO","psi":2,"J":1.17e17},{"c":"P-D4","m":"DMO","psi":5,"J":9.55e16},{"c":"P-D4","m":"DMO","psi":8,"J":6.92e16},{"c":"P-D4","m":"DMO","psi":12,"J":4.57e16},{"c":"P-D4","m":"DMO","psi":18,"J":2.82e16},{"c":"P-D4","m":"DMO","psi":27,"J":1.66e16},{"c":"P-D4","m":"DMO","psi":40,"J":8.32e15},{"c":"P-D4","m":"DMO","psi":60,"J":3.8e15},{"c":"P-D4","m":"DMO","psi":90,"J":2.09e15},
{"c":"P-D5","m":"DMO","psi":0,"J":1.15e17},{"c":"P-D5","m":"DMO","psi":2,"J":1.07e17},{"c":"P-D5","m":"DMO","psi":5,"J":8.51e16},{"c":"P-D5","m":"DMO","psi":8,"J":6.03e16},{"c":"P-D5","m":"DMO","psi":12,"J":3.98e16},{"c":"P-D5","m":"DMO","psi":18,"J":2.51e16},{"c":"P-D5","m":"DMO","psi":27,"J":1.51e16},{"c":"P-D5","m":"DMO","psi":40,"J":7.59e15},{"c":"P-D5","m":"DMO","psi":60,"J":3.55e15},{"c":"P-D5","m":"DMO","psi":90,"J":2e15},
{"c":"P-D6","m":"DMO","psi":0,"J":1.1e17},{"c":"P-D6","m":"DMO","psi":2,"J":1.02e17},{"c":"P-D6","m":"DMO","psi":5,"J":7.94e16},{"c":"P-D6","m":"DMO","psi":8,"J":5.5e16},{"c":"P-D6","m":"DMO","psi":12,"J":3.63e16},{"c":"P-D6","m":"DMO","psi":18,"J":2.29e16},{"c":"P-D6","m":"DMO","psi":27,"J":1.38e16},{"c":"P-D6","m":"DMO","psi":40,"J":6.92e15},{"c":"P-D6","m":"DMO","psi":60,"J":3.31e15},{"c":"P-D6","m":"DMO","psi":90,"J":1.91e15},
{"c":"P-D7","m":"DMO","psi":0,"J":1.02e17},{"c":"P-D7","m":"DMO","psi":2,"J":9.55e16},{"c":"P-D7","m":"DMO","psi":5,"J":7.24e16},{"c":"P-D7","m":"DMO","psi":8,"J":4.79e16},{"c":"P-D7","m":"DMO","psi":12,"J":3.16e16},{"c":"P-D7","m":"DMO","psi":18,"J":2e16},{"c":"P-D7","m":"DMO","psi":27,"J":1.2e16},{"c":"P-D7","m":"DMO","psi":40,"J":6.31e15},{"c":"P-D7","m":"DMO","psi":60,"J":3.16e15},{"c":"P-D7","m":"DMO","psi":90,"J":1.86e15},
{"c":"P-D8","m":"DMO","psi":0,"J":7.08e16},{"c":"P-D8","m":"DMO","psi":2,"J":6.61e16},{"c":"P-D8","m":"DMO","psi":5,"J":5.5e16},{"c":"P-D8","m":"DMO","psi":8,"J":4.17e16},{"c":"P-D8","m":"DMO","psi":12,"J":2.63e16},{"c":"P-D8","m":"DMO","psi":18,"J":1.41e16},{"c":"P-D8","m":"DMO","psi":27,"J":7.94e15},{"c":"P-D8","m":"DMO","psi":40,"J":4.17e15},{"c":"P-D8","m":"DMO","psi":60,"J":2.51e15},{"c":"P-D8","m":"DMO","psi":90,"J":1.38e15},
{"c":"P-D9","m":"DMO","psi":0,"J":4.57e16},{"c":"P-D9","m":"DMO","psi":2,"J":4.37e16},{"c":"P-D9","m":"DMO","psi":5,"J":3.63e16},{"c":"P-D9","m":"DMO","psi":8,"J":2.75e16},{"c":"P-D9","m":"DMO","psi":12,"J":1.91e16},{"c":"P-D9","m":"DMO","psi":18,"J":1.15e16},{"c":"P-D9","m":"DMO","psi":27,"J":6.31e15},{"c":"P-D9","m":"DMO","psi":40,"J":3.31e15},{"c":"P-D9","m":"DMO","psi":60,"J":1.66e15},{"c":"P-D9","m":"DMO","psi":90,"J":9.55e14},
{"c":"P-D10","m":"DMO","psi":0,"J":3.72e16},{"c":"P-D10","m":"DMO","psi":2,"J":3.55e16},{"c":"P-D10","m":"DMO","psi":5,"J":3.02e16},{"c":"P-D10","m":"DMO","psi":8,"J":2.34e16},{"c":"P-D10","m":"DMO","psi":12,"J":1.66e16},{"c":"P-D10","m":"DMO","psi":18,"J":1e16},{"c":"P-D10","m":"DMO","psi":27,"J":5.62e15},{"c":"P-D10","m":"DMO","psi":40,"J":2.95e15},{"c":"P-D10","m":"DMO","psi":60,"J":1.51e15},{"c":"P-D10","m":"DMO","psi":90,"J":8.91e14},
{"c":"D-H1","m":"Hydro","psi":0,"J":8.51e13},{"c":"D-H1","m":"Hydro","psi":2,"J":7.08e13},{"c":"D-H1","m":"Hydro","psi":5,"J":3.55e13},{"c":"D-H1","m":"Hydro","psi":8,"J":1.26e13},{"c":"D-H1","m":"Hydro","psi":12,"J":5.75e12},{"c":"D-H1","m":"Hydro","psi":18,"J":2.51e12},{"c":"D-H1","m":"Hydro","psi":27,"J":7.59e11},{"c":"D-H1","m":"Hydro","psi":40,"J":1.58e11},{"c":"D-H1","m":"Hydro","psi":60,"J":3.8e10},{"c":"D-H1","m":"Hydro","psi":90,"J":1.66e10},
{"c":"D-H2","m":"Hydro","psi":0,"J":5.62e13},{"c":"D-H2","m":"Hydro","psi":2,"J":4.68e13},{"c":"D-H2","m":"Hydro","psi":5,"J":2.51e13},{"c":"D-H2","m":"Hydro","psi":8,"J":1e13},{"c":"D-H2","m":"Hydro","psi":12,"J":4.79e12},{"c":"D-H2","m":"Hydro","psi":18,"J":2.14e12},{"c":"D-H2","m":"Hydro","psi":27,"J":6.76e11},{"c":"D-H2","m":"Hydro","psi":40,"J":1.48e11},{"c":"D-H2","m":"Hydro","psi":60,"J":3.63e10},{"c":"D-H2","m":"Hydro","psi":90,"J":1.58e10},
{"c":"D-H3","m":"Hydro","psi":0,"J":2.75e13},{"c":"D-H3","m":"Hydro","psi":2,"J":2.29e13},{"c":"D-H3","m":"Hydro","psi":5,"J":1.2e13},{"c":"D-H3","m":"Hydro","psi":8,"J":5.25e12},{"c":"D-H3","m":"Hydro","psi":12,"J":2.63e12},{"c":"D-H3","m":"Hydro","psi":18,"J":1.26e12},{"c":"D-H3","m":"Hydro","psi":27,"J":4.47e11},{"c":"D-H3","m":"Hydro","psi":40,"J":1.15e11},{"c":"D-H3","m":"Hydro","psi":60,"J":3.31e10},{"c":"D-H3","m":"Hydro","psi":90,"J":1.45e10},
{"c":"D-H4","m":"Hydro","psi":0,"J":2.19e13},{"c":"D-H4","m":"Hydro","psi":2,"J":1.82e13},{"c":"D-H4","m":"Hydro","psi":5,"J":9.55e12},{"c":"D-H4","m":"Hydro","psi":8,"J":4.27e12},{"c":"D-H4","m":"Hydro","psi":12,"J":2.19e12},{"c":"D-H4","m":"Hydro","psi":18,"J":1.05e12},{"c":"D-H4","m":"Hydro","psi":27,"J":3.8e11},{"c":"D-H4","m":"Hydro","psi":40,"J":1.02e11},{"c":"D-H4","m":"Hydro","psi":60,"J":3.02e10},{"c":"D-H4","m":"Hydro","psi":90,"J":1.38e10},
{"c":"D-H5","m":"Hydro","psi":0,"J":1.95e13},{"c":"D-H5","m":"Hydro","psi":2,"J":1.62e13},{"c":"D-H5","m":"Hydro","psi":5,"J":8.51e12},{"c":"D-H5","m":"Hydro","psi":8,"J":3.72e12},{"c":"D-H5","m":"Hydro","psi":12,"J":1.82e12},{"c":"D-H5","m":"Hydro","psi":18,"J":8.51e11},{"c":"D-H5","m":"Hydro","psi":27,"J":3.09e11},{"c":"D-H5","m":"Hydro","psi":40,"J":8.32e10},{"c":"D-H5","m":"Hydro","psi":60,"J":2.51e10},{"c":"D-H5","m":"Hydro","psi":90,"J":1e10},
{"c":"D-H6","m":"Hydro","psi":0,"J":1.7e13},{"c":"D-H6","m":"Hydro","psi":2,"J":1.41e13},{"c":"D-H6","m":"Hydro","psi":5,"J":7.59e12},{"c":"D-H6","m":"Hydro","psi":8,"J":3.31e12},{"c":"D-H6","m":"Hydro","psi":12,"J":1.62e12},{"c":"D-H6","m":"Hydro","psi":18,"J":7.59e11},{"c":"D-H6","m":"Hydro","psi":27,"J":2.75e11},{"c":"D-H6","m":"Hydro","psi":40,"J":7.59e10},{"c":"D-H6","m":"Hydro","psi":60,"J":2.34e10},{"c":"D-H6","m":"Hydro","psi":90,"J":9.12e9},
{"c":"D-H7","m":"Hydro","psi":0,"J":1.48e13},{"c":"D-H7","m":"Hydro","psi":2,"J":1.23e13},{"c":"D-H7","m":"Hydro","psi":5,"J":6.61e12},{"c":"D-H7","m":"Hydro","psi":8,"J":2.95e12},{"c":"D-H7","m":"Hydro","psi":12,"J":1.45e12},{"c":"D-H7","m":"Hydro","psi":18,"J":6.76e11},{"c":"D-H7","m":"Hydro","psi":27,"J":2.51e11},{"c":"D-H7","m":"Hydro","psi":40,"J":7.08e10},{"c":"D-H7","m":"Hydro","psi":60,"J":2.24e10},{"c":"D-H7","m":"Hydro","psi":90,"J":8.71e9},
{"c":"D-H8","m":"Hydro","psi":0,"J":1.35e13},{"c":"D-H8","m":"Hydro","psi":2,"J":1.12e13},{"c":"D-H8","m":"Hydro","psi":5,"J":6.03e12},{"c":"D-H8","m":"Hydro","psi":8,"J":2.69e12},{"c":"D-H8","m":"Hydro","psi":12,"J":1.32e12},{"c":"D-H8","m":"Hydro","psi":18,"J":6.17e11},{"c":"D-H8","m":"Hydro","psi":27,"J":2.34e11},{"c":"D-H8","m":"Hydro","psi":40,"J":6.61e10},{"c":"D-H8","m":"Hydro","psi":60,"J":2.14e10},{"c":"D-H8","m":"Hydro","psi":90,"J":8.32e9},
{"c":"D-H9","m":"Hydro","psi":0,"J":8.91e12},{"c":"D-H9","m":"Hydro","psi":2,"J":7.59e12},{"c":"D-H9","m":"Hydro","psi":5,"J":4.17e12},{"c":"D-H9","m":"Hydro","psi":8,"J":2e12},{"c":"D-H9","m":"Hydro","psi":12,"J":1.05e12},{"c":"D-H9","m":"Hydro","psi":18,"J":5.13e11},{"c":"D-H9","m":"Hydro","psi":27,"J":2e11},{"c":"D-H9","m":"Hydro","psi":40,"J":5.89e10},{"c":"D-H9","m":"Hydro","psi":60,"J":1.91e10},{"c":"D-H9","m":"Hydro","psi":90,"J":7.94e9},
{"c":"D-H10","m":"Hydro","psi":0,"J":3.98e12},{"c":"D-H10","m":"Hydro","psi":2,"J":3.39e12},{"c":"D-H10","m":"Hydro","psi":5,"J":1.91e12},{"c":"D-H10","m":"Hydro","psi":8,"J":9.55e11},{"c":"D-H10","m":"Hydro","psi":12,"J":6.31e11},{"c":"D-H10","m":"Hydro","psi":18,"J":3.98e11},{"c":"D-H10","m":"Hydro","psi":27,"J":2.09e11},{"c":"D-H10","m":"Hydro","psi":40,"J":6.92e10},{"c":"D-H10","m":"Hydro","psi":60,"J":1.58e10},{"c":"D-H10","m":"Hydro","psi":90,"J":5.75e9},
{"c":"D-D1","m":"DMO","psi":0,"J":3.02e11},{"c":"D-D1","m":"DMO","psi":2,"J":2.88e11},{"c":"D-D1","m":"DMO","psi":5,"J":2.51e11},{"c":"D-D1","m":"DMO","psi":8,"J":2e11},{"c":"D-D1","m":"DMO","psi":12,"J":1.51e11},{"c":"D-D1","m":"DMO","psi":18,"J":1.05e11},{"c":"D-D1","m":"DMO","psi":27,"J":6.61e10},{"c":"D-D1","m":"DMO","psi":40,"J":3.31e10},{"c":"D-D1","m":"DMO","psi":60,"J":1.41e10},{"c":"D-D1","m":"DMO","psi":90,"J":7.24e9},
{"c":"D-D2","m":"DMO","psi":0,"J":2.09e11},{"c":"D-D2","m":"DMO","psi":2,"J":2e11},{"c":"D-D2","m":"DMO","psi":5,"J":1.74e11},{"c":"D-D2","m":"DMO","psi":8,"J":1.38e11},{"c":"D-D2","m":"DMO","psi":12,"J":1e11},{"c":"D-D2","m":"DMO","psi":18,"J":6.92e10},{"c":"D-D2","m":"DMO","psi":27,"J":4.37e10},{"c":"D-D2","m":"DMO","psi":40,"J":2.29e10},{"c":"D-D2","m":"DMO","psi":60,"J":1.05e10},{"c":"D-D2","m":"DMO","psi":90,"J":5.25e9},
{"c":"D-D3","m":"DMO","psi":0,"J":1.58e11},{"c":"D-D3","m":"DMO","psi":2,"J":1.51e11},{"c":"D-D3","m":"DMO","psi":5,"J":1.32e11},{"c":"D-D3","m":"DMO","psi":8,"J":1.05e11},{"c":"D-D3","m":"DMO","psi":12,"J":7.59e10},{"c":"D-D3","m":"DMO","psi":18,"J":5.25e10},{"c":"D-D3","m":"DMO","psi":27,"J":3.31e10},{"c":"D-D3","m":"DMO","psi":40,"J":1.78e10},{"c":"D-D3","m":"DMO","psi":60,"J":8.32e9},{"c":"D-D3","m":"DMO","psi":90,"J":4.17e9},
{"c":"D-D4","m":"DMO","psi":0,"J":1.32e11},{"c":"D-D4","m":"DMO","psi":2,"J":1.26e11},{"c":"D-D4","m":"DMO","psi":5,"J":1.1e11},{"c":"D-D4","m":"DMO","psi":8,"J":8.71e10},{"c":"D-D4","m":"DMO","psi":12,"J":6.31e10},{"c":"D-D4","m":"DMO","psi":18,"J":4.37e10},{"c":"D-D4","m":"DMO","psi":27,"J":2.82e10},{"c":"D-D4","m":"DMO","psi":40,"J":1.51e10},{"c":"D-D4","m":"DMO","psi":60,"J":7.24e9},{"c":"D-D4","m":"DMO","psi":90,"J":3.63e9},
{"c":"D-D5","m":"DMO","psi":0,"J":1.05e11},{"c":"D-D5","m":"DMO","psi":2,"J":1e11},{"c":"D-D5","m":"DMO","psi":5,"J":8.71e10},{"c":"D-D5","m":"DMO","psi":8,"J":6.92e10},{"c":"D-D5","m":"DMO","psi":12,"J":5.01e10},{"c":"D-D5","m":"DMO","psi":18,"J":3.55e10},{"c":"D-D5","m":"DMO","psi":27,"J":2.4e10},{"c":"D-D5","m":"DMO","psi":40,"J":1.32e10},{"c":"D-D5","m":"DMO","psi":60,"J":6.61e9},{"c":"D-D5","m":"DMO","psi":90,"J":3.31e9},
{"c":"D-D6","m":"DMO","psi":0,"J":8.91e10},{"c":"D-D6","m":"DMO","psi":2,"J":8.51e10},{"c":"D-D6","m":"DMO","psi":5,"J":7.41e10},{"c":"D-D6","m":"DMO","psi":8,"J":6.03e10},{"c":"D-D6","m":"DMO","psi":12,"J":4.47e10},{"c":"D-D6","m":"DMO","psi":18,"J":3.16e10},{"c":"D-D6","m":"DMO","psi":27,"J":2.09e10},{"c":"D-D6","m":"DMO","psi":40,"J":1.15e10},{"c":"D-D6","m":"DMO","psi":60,"J":5.89e9},{"c":"D-D6","m":"DMO","psi":90,"J":2.88e9},
{"c":"D-D7","m":"DMO","psi":0,"J":7.59e10},{"c":"D-D7","m":"DMO","psi":2,"J":7.24e10},{"c":"D-D7","m":"DMO","psi":5,"J":6.31e10},{"c":"D-D7","m":"DMO","psi":8,"J":5.01e10},{"c":"D-D7","m":"DMO","psi":12,"J":3.63e10},{"c":"D-D7","m":"DMO","psi":18,"J":2.51e10},{"c":"D-D7","m":"DMO","psi":27,"J":1.58e10},{"c":"D-D7","m":"DMO","psi":40,"J":8.32e9},{"c":"D-D7","m":"DMO","psi":60,"J":4.17e9},{"c":"D-D7","m":"DMO","psi":90,"J":2.09e9},
{"c":"D-D8","m":"DMO","psi":0,"J":3.72e10},{"c":"D-D8","m":"DMO","psi":2,"J":3.55e10},{"c":"D-D8","m":"DMO","psi":5,"J":3.09e10},{"c":"D-D8","m":"DMO","psi":8,"J":2.57e10},{"c":"D-D8","m":"DMO","psi":12,"J":2.14e10},{"c":"D-D8","m":"DMO","psi":18,"J":1.66e10},{"c":"D-D8","m":"DMO","psi":27,"J":1.15e10},{"c":"D-D8","m":"DMO","psi":40,"J":6.46e9},{"c":"D-D8","m":"DMO","psi":60,"J":2.82e9},{"c":"D-D8","m":"DMO","psi":90,"J":1.45e9},
{"c":"D-D9","m":"DMO","psi":0,"J":3.72e10},{"c":"D-D9","m":"DMO","psi":2,"J":3.55e10},{"c":"D-D9","m":"DMO","psi":5,"J":3.09e10},{"c":"D-D9","m":"DMO","psi":8,"J":2.51e10},{"c":"D-D9","m":"DMO","psi":12,"J":2.04e10},{"c":"D-D9","m":"DMO","psi":18,"J":1.55e10},{"c":"D-D9","m":"DMO","psi":27,"J":1.05e10},{"c":"D-D9","m":"DMO","psi":40,"J":5.75e9},{"c":"D-D9","m":"DMO","psi":60,"J":2.51e9},{"c":"D-D9","m":"DMO","psi":90,"J":1.32e9},
{"c":"D-D10","m":"DMO","psi":0,"J":3.63e10},{"c":"D-D10","m":"DMO","psi":2,"J":3.47e10},{"c":"D-D10","m":"DMO","psi":5,"J":3.02e10},{"c":"D-D10","m":"DMO","psi":8,"J":2.45e10},{"c":"D-D10","m":"DMO","psi":12,"J":1.95e10},{"c":"D-D10","m":"DMO","psi":18,"J":1.45e10},{"c":"D-D10","m":"DMO","psi":27,"J":9.55e9},{"c":"D-D10","m":"DMO","psi":40,"J":5.25e9},{"c":"D-D10","m":"DMO","psi":60,"J":2.34e9},{"c":"D-D10","m":"DMO","psi":90,"J":1.26e9}
],
"labels": [
{"label":"Sommerfeld","psi":86.1,"J":3.31e25},
{"label":"S-Wave","psi":86.2,"J":1.35e22},
{"label":"P-Wave","psi":86.1,"J":1.9e16},
{"label":"D-Wave","psi":86.8,"J":7.59e10}
],
"vline": [{"psi":7}]
},
"layer": [
{
  "data": {"name": "curves"},
  "mark": {"type": "line", "interpolate": "monotone", "strokeCap": "round", "strokeJoin": "round"},
  "encoding": {
    "x": {"field": "psi", "type": "quantitative", "scale": {"domain": [0, 90], "nice": false, "zero": false},
      "axis": {"orient": "bottom", "values": [0, 20, 40, 60, 80], "format": "d", "tickSize": -10, "labelPadding": 23, "title": "Ψ (degrees)", "titleFontSize": 40, "titleX": 391, "titleY": 73, "titleAlign": "center", "titleBaseline": "middle"}},
    "y": {"field": "J", "type": "quantitative", "scale": {"type": "log", "domain": [1e8, 1e28], "nice": false},
      "axis": {"orient": "left", "values": [1e9,1e10,1e11,1e12,1e13,1e14,1e15,1e16,1e17,1e18,1e19,1e20,1e21,1e22,1e23,1e24,1e25,1e26,1e27,1e28], "tickSize": -10, "labelPadding": 21,
        "labelExpr": "'10' + (floor(round(log(datum.value)/LN10)/10) > 0 ? substring('⁰¹²³⁴⁵⁶⁷⁸⁹', floor(round(log(datum.value)/LN10)/10), floor(round(log(datum.value)/LN10)/10) + 1) : '') + substring('⁰¹²³⁴⁵⁶⁷⁸⁹', round(log(datum.value)/LN10) % 10, round(log(datum.value)/LN10) % 10 + 1)",
        "title": "𝒥ₛ (GeV²/cm⁵)", "titleFontSize": 40, "titleFontStyle": "italic", "titleAngle": -90, "titleX": -118, "titleY": 891, "titleAlign": "center", "titleBaseline": "middle"}},
    "detail": {"field": "c", "type": "nominal"},
    "color": {"condition": {"test": "datum.m === 'Hydro'", "value": "#00a8ff"}, "value": "#ffd6bd"},
    "strokeWidth": {"condition": {"test": "datum.m === 'Hydro'", "value": 7.5}, "value": 5.5}
  }
},
{
  "data": {"name": "curves"},
  "mark": {"type": "line", "interpolate": "monotone", "strokeCap": "round", "strokeJoin": "round"},
  "encoding": {
    "x": {"field": "psi", "type": "quantitative", "scale": {"domain": [0, 90], "nice": false, "zero": false},
      "axis": {"orient": "bottom", "values": [5,10,15,25,30,35,45,50,55,65,70,75,85], "tickSize": -5, "labels": false, "title": null}},
    "y": {"field": "J", "type": "quantitative", "scale": {"type": "log", "domain": [1e8, 1e28], "nice": false},
      "axis": {"orient": "right", "values": [1e9,1e10,1e11,1e12,1e13,1e14,1e15,1e16,1e17,1e18,1e19,1e20,1e21,1e22,1e23,1e24,1e25,1e26,1e27,1e28], "tickSize": -10, "labels": false, "title": null}},
    "detail": {"field": "c", "type": "nominal"},
    "color": {"field": "m", "type": "nominal", "scale": {"domain": ["Hydro", "DMO"], "range": ["#0a10f0", "#ffa500"]}, "legend": {"title": null}},
    "strokeWidth": {"condition": {"test": "datum.m === 'Hydro'", "value": 2.5}, "value": 2}
  }
},
{
  "data": {"name": "vline"},
  "mark": {"type": "rule", "color": "black", "strokeWidth": 2},
  "encoding": {
    "x": {"field": "psi", "type": "quantitative", "scale": {"domain": [0, 90], "nice": false, "zero": false},
      "axis": {"orient": "top", "values": [0, 20, 40, 60, 80], "tickSize": -10, "labels": false, "title": null}}
  }
},
{
  "data": {"name": "labels"},
  "mark": {"type": "text", "align": "right", "baseline": "middle", "fontSize": 34, "font": "DejaVu Sans", "color": "black"},
  "encoding": {
    "x": {"field": "psi", "type": "quantitative", "scale": {"domain": [0, 90], "nice": false, "zero": false},
      "axis": {"orient": "top", "values": [5,10,15,25,30,35,45,50,55,65,70,75,85], "tickSize": -5, "labels": false, "title": null}},
    "y": {"field": "J", "type": "quantitative", "scale": {"type": "log", "domain": [1e8, 1e28], "nice": false}, "axis": null},
    "text": {"field": "label", "type": "nominal"}
  }
}
],
"resolve": {"axis": {"x": "independent", "y": "independent"}}
}
